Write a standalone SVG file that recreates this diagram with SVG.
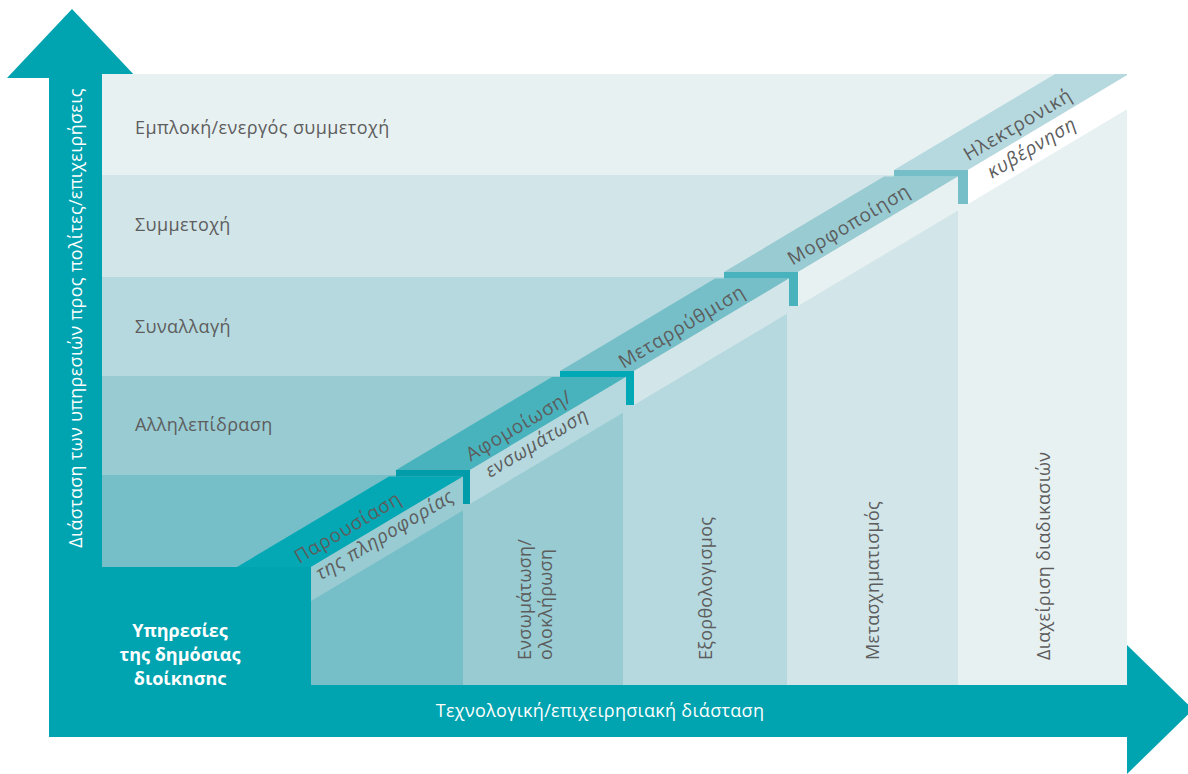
<svg xmlns="http://www.w3.org/2000/svg" width="1188" height="774" viewBox="0 0 1188 774">
  <defs>
    <style>
      .t { font-family: "Open Sans", "Noto Sans", "DejaVu Sans", sans-serif; fill: #5d5d5d; }
      .band { font-size: 18px; letter-spacing: 0.4px; }
      .col { font-size: 18px; letter-spacing: 0.3px; }
      .step { font-size: 19px; letter-spacing: 0.8px; }
      .it { font-style: italic; }
      .wt { fill: #ffffff; }
      .bold { font-weight: 700; font-size: 18px; }
      .axis { font-size: 18px; letter-spacing: 0.3px; }
      .teal { fill: #00a3b0; }
      .c1 { fill: #48b3bd; }
      .c2 { fill: #77bfc8; }
      .c3 { fill: #98cbd2; }
      .c4 { fill: #b6d9df; }
      .c5 { fill: #d2e5e8; }
      .c6 { fill: #e8f1f2; }
      .c7 { fill: #ffffff; }
    </style>
    <clipPath id="plot">
      <rect x="102" y="74" width="1025" height="611"/>
    </clipPath>
  </defs>

  <!-- vertical axis arrow -->
  <g id="axis-y">
    <polygon class="teal" points="72,9 7,78 137,78"/>
    <rect class="teal" x="49" y="78" width="53" height="659"/>
  </g>

  <!-- horizontal levels of service -->
  <g id="levels">
    <rect class="c6" x="102" y="74" width="1025" height="101"/>
    <rect class="c5" x="102" y="175" width="1025" height="102"/>
    <rect class="c4" x="102" y="277" width="1025" height="99"/>
    <rect class="c3" x="102" y="376" width="1025" height="99"/>
    <rect class="c2" x="102" y="475" width="1025" height="92"/>
  </g>

  <!-- vertical columns of process change -->
  <g id="columns" clip-path="url(#plot)">
    <polygon class="c2" points="311,567 463,476.4 463,685 311,685"/>
    <polygon class="c3" points="463,470 470,470 623,378.8 623,685 463,685"/>
    <polygon class="c4" points="623,371 634,371 787,279.8 787,685 623,685"/>
    <polygon class="c5" points="787,272 798,272 958,176.6 958,685 787,685"/>
    <polygon class="c6" points="958,170 968,170 1127,75.2 1127,685 958,685"/>
  </g>

  <!-- staircase of stages -->
  <g id="stairs" clip-path="url(#plot)">
    <g id="step-1">
      <polygon fill="#03a8b4" points="237,567 311,567 463,476.4 389,476.4"/>
      <polygon class="c3" points="311,567 463,476.4 463,510.4 311,601"/>
    </g>
    <g id="step-2">
      <polygon fill="#009ca9" points="396,470 470,470 470,504 463,504 463,476.4 396,476.4"/>
      <polygon class="c1" points="396,470 470,470 626,377 552,377"/>
      <polygon class="c4" points="470,470 626,377 626,411 470,504"/>
    </g>
    <g id="step-3">
      <polygon fill="#00a9b5" points="560,371 634,371 634,405 626,405 626,377 560,377"/>
      <polygon class="c2" points="560,371 634,371 789,278.6 715,278.6"/>
      <polygon class="c5" points="634,371 789,278.6 789,312.6 634,405"/>
    </g>
    <g id="step-4">
      <polygon class="c1" points="724,272 798,272 798,306 789,306 789,278.6 724,278.6"/>
      <polygon class="c3" points="724,272 798,272 958,176.6 884,176.6"/>
      <polygon class="c6" points="798,272 958,176.6 958,210.6 798,306"/>
    </g>
    <g id="step-5">
      <polygon class="c2" points="894,170 968,170 968,204 958,204 958,176.6 894,176.6"/>
      <polygon class="c4" points="894,170 968,170 1140,67.5 1066,67.5"/>
      <polygon class="c7" points="968,170 1140,67.5 1140,101.5 968,204"/>
    </g>
  </g>

  <!-- bottom-left block -->
  <g id="public-services">
    <rect class="teal" x="49" y="567" width="262" height="170"/>
    <text class="t wt bold" text-anchor="middle" x="180" y="637">Υπηρεσίες</text>
    <text class="t wt bold" text-anchor="middle" x="180" y="661">της δημόσιας</text>
    <text class="t wt bold" text-anchor="middle" x="180" y="685">διοίκησης</text>
  </g>

  <!-- horizontal axis arrow -->
  <g id="axis-x">
    <rect class="teal" x="49" y="685" width="1079" height="52"/>
    <polygon class="teal" points="1127,645 1193,709.5 1127,774"/>
    <text class="t wt axis" text-anchor="middle" x="600" y="717">Τεχνολογική/επιχειρησιακή διάσταση</text>
  </g>

  <!-- axis and level labels -->
  <g id="labels">
    <text class="t wt axis" text-anchor="middle" transform="translate(82,318) rotate(-90)">Διάσταση των υπηρεσιών προς πολίτες/επιχειρήσεις</text>
    <text class="t band" x="135" y="134">Εμπλοκή/ενεργός συμμετοχή</text>
    <text class="t band" x="135" y="231">Συμμετοχή</text>
    <text class="t band" x="135" y="333">Συναλλαγή</text>
    <text class="t band" x="135" y="431">Αλληλεπίδραση</text>

    <text class="t col" transform="translate(531,660) rotate(-90)">Ενσωμάτωση/</text>
    <text class="t col" transform="translate(552,660) rotate(-90)">ολοκλήρωση</text>
    <text class="t col" transform="translate(712,660) rotate(-90)">Εξορθολογισμος</text>
    <text class="t col" transform="translate(879,660) rotate(-90)">Μετασχηματισμός</text>
    <text class="t col" transform="translate(1050,660) rotate(-90)">Διαχείριση διαδικασιών</text>

    <text class="t step" text-anchor="middle" transform="translate(348,528) rotate(-30.8)" y="6">Παρουσίαση</text>
    <text class="t step it" text-anchor="middle" transform="translate(385,535) rotate(-30.8)" y="6">της πληροφορίας</text>
    <text class="t step" text-anchor="middle" transform="translate(519,426) rotate(-30.8)" y="6">Αφομοίωση/</text>
    <text class="t step it" text-anchor="middle" transform="translate(537,443) rotate(-30.8)" y="6">ενσωμάτωση</text>
    <text class="t step" text-anchor="middle" transform="translate(682,327) rotate(-30.8)" y="6">Μεταρρύθμιση</text>
    <text class="t step" text-anchor="middle" transform="translate(849,225) rotate(-30.8)" y="6">Μορφοποίηση</text>
    <text class="t step" text-anchor="middle" transform="translate(1018,125) rotate(-30.8)" y="6">Ηλεκτρονική</text>
    <text class="t step it" text-anchor="middle" transform="translate(1032,148) rotate(-30.8)" y="6">κυβέρνηση</text>
  </g>
</svg>
